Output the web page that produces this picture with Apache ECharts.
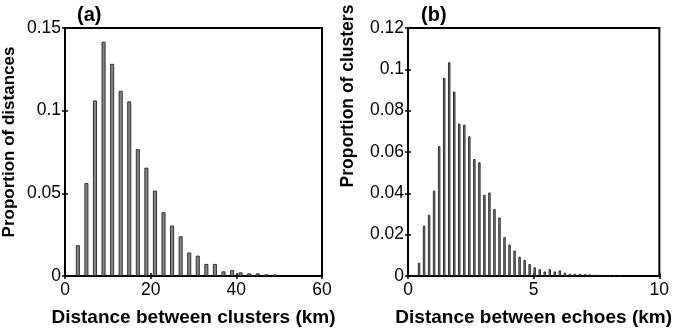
<!DOCTYPE html>
<html>
<head>
<meta charset="utf-8">
<script src="https://cdn.jsdelivr.net/npm/echarts@6/dist/echarts.min.js"></script>
<style>
  html, body { margin: 0; padding: 0; background: #fff; }
  #chart { width: 675px; height: 332px; }
</style>
</head>
<body>
<div id="chart"></div>
<script>
// panel (a): distance between clusters, bin centres in km
const distA = [3, 5, 7, 9, 11, 13, 15, 17, 19, 21, 23, 25, 27, 29, 31, 33, 35, 37, 39, 41, 43, 45, 47, 49]
const propA = [0.0186, 0.0562, 0.1062, 0.1417, 0.1283, 0.112, 0.1056, 0.0767, 0.0655, 0.0516, 0.0386, 0.0305,
  0.024, 0.0142, 0.0123, 0.0073, 0.0073, 0.0028, 0.0035, 0.0022, 0.0016, 0.0016, 0.001, 0.0009]

// panel (b): distance between echoes, bin centres in km
const distB = [0.44, 0.64, 0.84, 1.04, 1.24, 1.44, 1.64, 1.84, 2.04, 2.24, 2.44, 2.64, 2.84, 3.04, 3.24, 3.44,
  3.64, 3.84, 4.04, 4.24, 4.44, 4.64, 4.84, 5.04, 5.24, 5.44, 5.64, 5.84, 6.04, 6.24, 6.44, 6.64, 6.84, 7.04,
  7.24, 7.44, 7.64, 7.84, 8.04, 8.24, 8.44]
const propB = [0.0064, 0.0244, 0.0296, 0.0413, 0.0629, 0.0959, 0.1034, 0.0892, 0.0737, 0.0732, 0.0676, 0.0566,
  0.055, 0.0393, 0.0404, 0.0324, 0.0283, 0.0188, 0.0152, 0.0123, 0.0093, 0.0078, 0.0058, 0.0042, 0.0033, 0.0022,
  0.0033, 0.0022, 0.0027, 0.0016, 0.0011, 0.0011, 0.0011, 0.0009, 0.0008, 0.0006, 0.0005, 0.0004, 0.0003,
  0.0003, 0.0002]

const xTicksA = { min: 0, max: 60, interval: 20 }
const yTicksA = { min: 0, max: 0.15, interval: 0.05 }
const xTicksB = { min: 0, max: 10, interval: 5 }
const yTicksB = { min: 0, max: 0.12, interval: 0.02 }

const font = 'Liberation Sans, Arial, Helvetica, sans-serif'
const tickStyle = { inside: true, length: 3, lineStyle: { color: '#000', width: 1.5 } }

function xAxisPair(grid, range, name) {
  return [
    {
      type: 'value', gridIndex: grid, ...range,
      axisLine: { show: false },
      axisTick: tickStyle,
      splitLine: { show: false },
      axisLabel: { color: '#000', fontFamily: font, fontSize: 17.5, margin: 5 },
      name,
      nameLocation: 'middle',
      nameGap: 32,
      nameTextStyle: { color: '#000', fontFamily: font, fontSize: 19, fontWeight: 'bold' }
    },
    {
      type: 'value', gridIndex: grid, position: 'top', ...range,
      axisLine: { show: false },
      axisTick: tickStyle,
      splitLine: { show: false },
      axisLabel: { show: false }
    }
  ]
}

function yAxisPair(grid, range) {
  return [
    {
      type: 'value', gridIndex: grid, ...range,
      axisLine: { show: false },
      axisTick: tickStyle,
      splitLine: { show: false },
      axisLabel: { color: '#000', fontFamily: font, fontSize: 17.5, margin: 4 }
    },
    {
      type: 'value', gridIndex: grid, position: 'right', ...range,
      axisLine: { show: false },
      axisTick: tickStyle,
      splitLine: { show: false },
      axisLabel: { show: false }
    }
  ]
}

const barStyle = { color: '#858585', borderColor: '#222', borderWidth: 0.9 }

const chart = echarts.init(document.getElementById('chart'), null, { renderer: 'canvas' })

chart.setOption({
  animation: false,
  backgroundColor: '#fff',
  title: [
    { text: '(a)', left: 72, top: 0, textStyle: { fontFamily: font, fontSize: 20, fontWeight: 'bold', color: '#000' } },
    { text: '(b)', left: 416, top: 0, textStyle: { fontFamily: font, fontSize: 20, fontWeight: 'bold', color: '#000' } }
  ],
  grid: [
    { left: 65, top: 28, width: 257, height: 258, show: true, borderColor: '#000', borderWidth: 2, backgroundColor: 'transparent' },
    { left: 408, top: 28, width: 256, height: 258, show: true, borderColor: '#000', borderWidth: 2, backgroundColor: 'transparent' }
  ],
  xAxis: [
    ...xAxisPair(0, xTicksA, 'Distance between clusters (km)'),
    ...xAxisPair(1, xTicksB, 'Distance between echoes (km)')
  ],
  yAxis: [
    ...yAxisPair(0, yTicksA),
    ...yAxisPair(1, yTicksB)
  ],
  graphic: [
    {
      type: 'text', x: 9, y: 142, rotation: Math.PI / 2,
      style: { text: 'Proportion of distances', fontFamily: font, fontSize: 17, fontWeight: 'bold', fill: '#000', align: 'center', verticalAlign: 'middle' }
    },
    {
      type: 'text', x: 348, y: 96, rotation: Math.PI / 2,
      style: { text: 'Proportion of clusters', fontFamily: font, fontSize: 17.5, fontWeight: 'bold', fill: '#000', align: 'center', verticalAlign: 'middle' }
    }
  ],
  series: [
    {
      type: 'bar', xAxisIndex: 0, yAxisIndex: 0,
      data: distA.map((d, i) => [d, propA[i]]),
      barWidth: 4,
      itemStyle: barStyle
    },
    {
      type: 'bar', xAxisIndex: 2, yAxisIndex: 2,
      data: distB.map((d, i) => [d, propB[i]]),
      barWidth: 2.4,
      itemStyle: barStyle
    }
  ]
})
</script>
</body>
</html>
